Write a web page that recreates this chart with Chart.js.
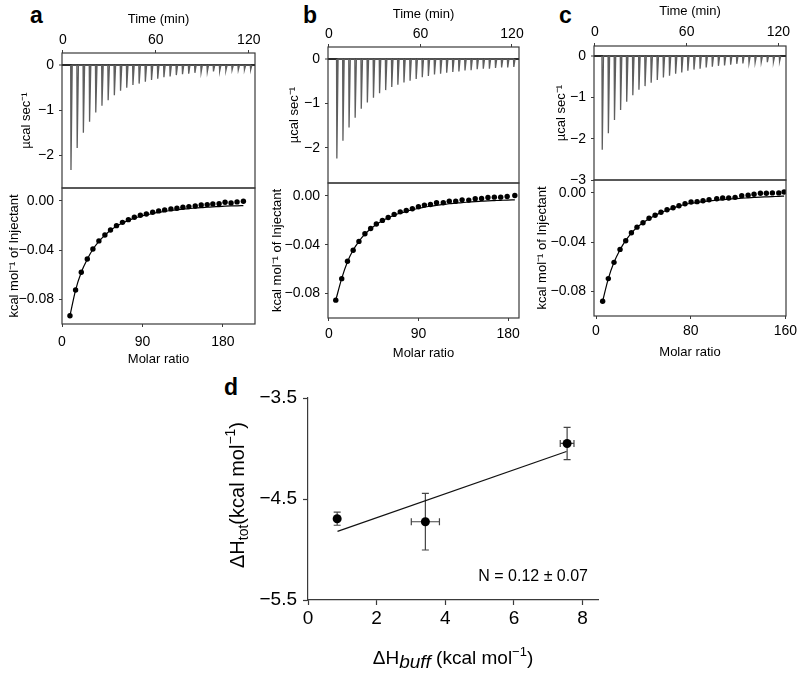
<!DOCTYPE html>
<html><head><meta charset="utf-8">
<script src="https://cdn.jsdelivr.net/npm/chart.js@4.4.1/dist/chart.umd.min.js"></script>
<style>
html,body{margin:0;padding:0;background:#fff}
body{width:800px;height:675px;position:relative;overflow:hidden;font-family:"Liberation Sans",Arial,sans-serif}
canvas{position:absolute}
.lbl{position:absolute;font-weight:bold;font-size:23px;line-height:23px;color:#000;font-family:"Liberation Sans",Arial,sans-serif}
</style></head><body>
<div class="lbl" style="left:30px;top:4px">a</div>
<div class="lbl" style="left:303px;top:4px">b</div>
<div class="lbl" style="left:559px;top:4px">c</div>
<div class="lbl" style="left:224px;top:376px">d</div>
<canvas id="aTop"></canvas><canvas id="aBot"></canvas>
<canvas id="bTop"></canvas><canvas id="bBot"></canvas>
<canvas id="cTop"></canvas><canvas id="cBot"></canvas>
<canvas id="dChart"></canvas>
<script>
// ---------------- DATA ----------------
const timeTicks = [0, 60, 120];
const timeTickLabels = ['0', '60', '120'];
const rawTicks = [0, -1, -2];
const rawTickLabels = ['0', '\u22121', '\u22122'];
const rawTicksC = [0, -1, -2, -3];
const rawTickLabelsC = ['0', '\u22121', '\u22122', '\u22123'];
const heatTicks = [0, -0.04, -0.08];
const heatTickLabels = ['0.00', '\u22120.04', '\u22120.08'];
const molarTicksAB = [0, 90, 180];
const molarTickLabelsAB = ['0', '90', '180'];
const molarTicksC = [0, 80, 160];
const molarTickLabelsC = ['0', '80', '160'];

// injection times (min) and peak heights (µcal/s)
const injTimesA = [5,9,13,17,21,25,29,33,37,41,45,49,53,57,61,65,69,73,77,81,85,89,93,97,101,105,109,113,117,121];
const peaksA = [-2.33,-1.84,-1.50,-1.26,-1.05,-0.90,-0.78,-0.67,-0.57,-0.50,-0.44,-0.41,-0.37,-0.33,-0.30,-0.27,-0.25,-0.22,-0.20,-0.19,-0.17,-0.16,-0.15,-0.14,-0.13,-0.12,-0.11,-0.11,-0.10,-0.10];
const injTimesB = [5,9,13,17,21,25,29,33,37,41,45,49,53,57,61,65,69,73,77,81,85,89,93,97,101,105,109,113,117,121];
const peaksB = [-2.24,-1.84,-1.54,-1.32,-1.12,-0.98,-0.87,-0.77,-0.70,-0.63,-0.58,-0.53,-0.49,-0.45,-0.41,-0.38,-0.35,-0.33,-0.31,-0.29,-0.28,-0.26,-0.25,-0.23,-0.22,-0.22,-0.20,-0.19,-0.19,-0.18];
const injTimesC = [4.6,8.6,12.6,16.6,20.6,24.6,28.6,32.6,36.6,40.6,44.6,48.6,52.6,56.6,60.6,64.6,68.6,72.6,76.6,80.6,84.6,88.6,92.6,96.6,100.6,104.6,108.6,112.6,116.6,120.6];
const peaksC = [-2.27,-1.87,-1.55,-1.31,-1.11,-0.95,-0.82,-0.73,-0.65,-0.58,-0.52,-0.48,-0.43,-0.40,-0.36,-0.33,-0.31,-0.28,-0.26,-0.24,-0.23,-0.21,-0.19,-0.18,-0.17,-0.16,-0.15,-0.15,-0.14,-0.13];

// integrated heats (kcal/mol of injectant) vs molar ratio, and fitted curves
const molarA = [8.9,15.2,21.6,28.3,34.6,41.3,48.0,54.3,61.0,67.7,74.3,81.0,87.7,94.4,101.5,108.2,114.9,121.9,128.6,135.3,142.0,149.1,155.8,162.5,168.8,175.8,182.5,189.2,195.9,203.0];
const heatA = [-0.0933,-0.0724,-0.0580,-0.0472,-0.0391,-0.0325,-0.0277,-0.0236,-0.0201,-0.0174,-0.0152,-0.0133,-0.0117,-0.0106,-0.0092,-0.0081,-0.0073,-0.0065,-0.0060,-0.0052,-0.0046,-0.0041,-0.0033,-0.0030,-0.0024,-0.0022,-0.0011,-0.0016,-0.0008,-0.0003];
const fitA = [-0.0933,-0.0724,-0.0580,-0.0474,-0.0393,-0.0328,-0.0279,-0.0239,-0.0206,-0.0180,-0.0158,-0.0140,-0.0125,-0.0113,-0.0102,-0.0093,-0.0085,-0.0078,-0.0072,-0.0067,-0.0062,-0.0058,-0.0054,-0.0051,-0.0048,-0.0046,-0.0043,-0.0041,-0.0040,-0.0038];

const molarB = [6.8,12.8,18.6,24.3,30.1,36.1,41.9,47.6,53.7,59.5,65.5,71.6,77.7,83.8,89.9,95.9,102.0,108.1,114.9,120.9,127.4,133.8,140.5,147.0,153.4,159.8,166.2,172.6,179.1,186.8];
const heatB = [-0.0854,-0.0678,-0.0536,-0.0446,-0.0373,-0.0310,-0.0267,-0.0231,-0.0201,-0.0177,-0.0152,-0.0131,-0.0120,-0.0106,-0.0090,-0.0076,-0.0071,-0.0057,-0.0057,-0.0044,-0.0044,-0.0033,-0.0035,-0.0024,-0.0022,-0.0014,-0.0011,-0.0011,-0.0005,0.0003];
const fitB = [-0.0854,-0.0676,-0.0540,-0.0444,-0.0372,-0.0314,-0.0270,-0.0234,-0.0204,-0.0180,-0.0159,-0.0142,-0.0127,-0.0114,-0.0103,-0.0093,-0.0085,-0.0078,-0.0071,-0.0065,-0.0060,-0.0055,-0.0051,-0.0047,-0.0044,-0.0041,-0.0039,-0.0037,-0.0035,-0.0033];

const molarC = [5.6,10.4,15.2,20.3,25.1,29.9,34.6,39.7,44.8,49.9,54.9,60.0,65.1,70.1,75.2,80.3,85.4,90.4,95.5,102.0,107.0,112.1,117.5,123.1,128.5,133.5,138.9,143.9,149.0,154.4,158.9];
const heatC = [-0.0880,-0.0696,-0.0564,-0.0459,-0.0388,-0.0324,-0.0278,-0.0242,-0.0206,-0.0181,-0.0157,-0.0137,-0.0121,-0.0104,-0.0088,-0.0074,-0.0071,-0.0063,-0.0055,-0.0047,-0.0041,-0.0041,-0.0036,-0.0022,-0.0019,-0.0011,-0.0003,-0.0003,0.0000,0.0000,0.0008];
const fitC = [-0.0880,-0.0696,-0.0564,-0.0462,-0.0386,-0.0326,-0.0280,-0.0242,-0.0210,-0.0183,-0.0160,-0.0141,-0.0123,-0.0107,-0.0094,-0.0084,-0.0077,-0.0071,-0.0065,-0.0059,-0.0055,-0.0051,-0.0047,-0.0043,-0.0040,-0.0037,-0.0034,-0.0032,-0.0030,-0.0028,-0.0026];

// panel d: ΔH_tot vs ΔH_buff
const dHbuff = [0.85, 3.42, 7.55];
const dHtot = [-4.695, -4.725, -3.95];
const dHbuffErr = [0, 0.41, 0.20];
const dHtotErr = [0.065, 0.28, 0.16];
const dFitX = [0.86, 7.53];
const dFitY = [-4.82, -4.03];
const dXTicks = [0, 2, 4, 6, 8];
const dXTickLabels = ['0', '2', '4', '6', '8'];
const dYTicks = [-3.5, -4.5, -5.5];
const dYTickLabels = ['\u22123.5', '\u22124.5', '\u22125.5'];
const dNote = 'N = 0.12 \u00b1 0.07';

// ---------------- DRAWING ----------------
const FAM = '"Liberation Sans", Arial, Helvetica, sans-serif';
const F13 = {family: FAM, size: 13};
const F14 = {family: FAM, size: 14};
const AX = '#3a3a3a';

function lab(values, labels) {
  return (v) => { const i = values.findIndex(x => Math.abs(x - v) < 1e-9); return i >= 0 ? labels[i] : ''; };
}
function setTicks(values) { return (s) => { s.ticks = values.map(v => ({value: v})); }; }

const framePlugin = {
  id: 'frame',
  afterDraw(chart) {
    const {ctx, chartArea: a} = chart;
    ctx.save();
    ctx.strokeStyle = AX; ctx.lineWidth = 1.2;
    ctx.strokeRect(a.left, a.top, a.right - a.left, a.bottom - a.top);
    ctx.restore();
  }
};

function mk(id, box, cfg) {
  const c = document.getElementById(id);
  c.width = box.w; c.height = box.h;
  c.style.left = box.l + 'px'; c.style.top = box.t + 'px';
  cfg.options.responsive = false;
  cfg.options.animation = false;
  cfg.options.devicePixelRatio = 1;
  cfg.options.plugins = Object.assign({legend: {display: false}, tooltip: {enabled: false}}, cfg.options.plugins || {});
  return new Chart(c, cfg);
}

function topChart(id, box, area, times, peaks, xr, yr, yv, yl, p) {
  const pts = [];
  times.forEach((t, i) => { pts.push({x: t, y: 0}, {x: t + 0.2, y: peaks[i]}, {x: t + 1.0, y: 0}); });
  return mk(id, box, {
    type: 'scatter',
    data: {datasets: [{data: pts, showLine: true, borderColor: '#5e5e5e', borderWidth: 1.3, pointRadius: 0, tension: 0}]},
    options: {
      layout: {padding: {left: 0, top: 0, right: box.l + box.w - area.x1, bottom: box.t + box.h - area.y1}},
      scales: {
        x: {type: 'linear', position: 'top', min: xr[0], max: xr[1],
          afterBuildTicks: setTicks(timeTicks),
          ticks: {font: F14, color: '#000', padding: p.xp, maxRotation: 0, autoSkip: false, callback: lab(timeTicks, timeTickLabels)},
          grid: {drawOnChartArea: false, tickLength: 3, color: AX, tickColor: AX, tickWidth: 1},
          border: {display: false},
          title: {display: true, text: 'Time (min)', font: F13, color: '#000', padding: {top: p.xt, bottom: 0}},
          afterFit: (s) => { s.height = area.y0 - box.t; s.paddingLeft = 0; s.paddingRight = 0; }
        },
        y: {type: 'linear', position: 'left', min: yr[0], max: yr[1],
          afterBuildTicks: setTicks(yv),
          ticks: {font: F14, color: '#000', padding: 5, autoSkip: false, callback: lab(yv, yl)},
          grid: {drawOnChartArea: true, tickLength: 3, tickColor: AX, tickWidth: 1,
            color: (c) => (c.tick && c.tick.value === 0) ? '#2a2a2a' : 'rgba(0,0,0,0)',
            lineWidth: (c) => (c.tick && c.tick.value === 0) ? 2 : 1},
          border: {display: false},
          title: {display: true, text: '\u00b5cal sec\u207b\u00b9', font: F13, color: '#000', padding: {top: p.yt, bottom: 0}},
          afterFit: (s) => { s.width = area.x0 - box.l; s.paddingTop = 0; s.paddingBottom = 0; }
        }
      }
    },
    plugins: [framePlugin]
  });
}

function botChart(id, box, area, mx, hy, fy, xr, xv, xl, p) {
  return mk(id, box, {
    type: 'scatter',
    data: {datasets: [
      {data: mx.map((x, i) => ({x: x, y: hy[i]})), pointRadius: 2.7, pointBackgroundColor: '#000', pointBorderColor: '#000', pointBorderWidth: 0, showLine: false},
      {data: mx.map((x, i) => ({x: x, y: fy[i]})), showLine: true, pointRadius: 0, borderColor: '#000', borderWidth: 1.2, tension: 0.3, cubicInterpolationMode: 'monotone'}
    ]},
    options: {
      layout: {padding: {left: 0, top: area.y0 - box.t, right: box.l + box.w - area.x1, bottom: 0}},
      scales: {
        x: {type: 'linear', position: 'bottom', min: xr[0], max: xr[1],
          afterBuildTicks: setTicks(xv),
          ticks: {font: F14, color: '#000', padding: p.xp, maxRotation: 0, autoSkip: false, callback: lab(xv, xl)},
          grid: {drawOnChartArea: false, tickLength: 3, color: AX, tickColor: AX, tickWidth: 1},
          border: {display: false},
          title: {display: true, text: 'Molar ratio', font: F13, color: '#000', padding: {top: 0, bottom: p.xt}},
          afterFit: (s) => { s.height = box.t + box.h - area.y1; s.paddingLeft = 0; s.paddingRight = 0; }
        },
        y: {type: 'linear', position: 'left', min: -0.1, max: 0.0105,
          afterBuildTicks: setTicks(heatTicks),
          ticks: {font: F14, color: '#000', padding: 5, autoSkip: false, callback: lab(heatTicks, heatTickLabels)},
          grid: {drawOnChartArea: false, tickLength: 3, color: AX, tickColor: AX, tickWidth: 1},
          border: {display: false},
          title: {display: true, text: 'kcal mol\u207b\u00b9 of Injectant', font: F13, color: '#000', padding: {top: p.yt, bottom: 0}},
          afterFit: (s) => { s.width = area.x0 - box.l; s.paddingTop = 0; s.paddingBottom = 0; }
        }
      }
    },
    plugins: [framePlugin]
  });
}

// Panel a
topChart('aTop', {l: 0, t: 0, w: 275, h: 205}, {x0: 62, y0: 53, x1: 255, y1: 188},
  injTimesA, peaksA, [-0.6, 124], [-2.73, 0.27], rawTicks, rawTickLabels, {xp: 1, xt: 12, yt: 19});
botChart('aBot', {l: 0, t: 173, w: 275, h: 200}, {x0: 62, y0: 188, x1: 255, y1: 324},
  molarA, heatA, fitA, [0, 216], molarTicksAB, molarTickLabelsAB, {xp: 7, xt: 6, yt: 7});
// Panel b
topChart('bTop', {l: 270, t: 0, w: 270, h: 198}, {x0: 328, y0: 47, x1: 519, y1: 183},
  injTimesB, peaksB, [-0.6, 124.6], [-2.79, 0.27], rawTicks, rawTickLabels, {xp: 1, xt: 7, yt: 17});
botChart('bBot', {l: 270, t: 168, w: 270, h: 200}, {x0: 328, y0: 183, x1: 519, y1: 318},
  molarB, heatB, fitB, [-1, 191], molarTicksAB, molarTickLabelsAB, {xp: 5, xt: 7, yt: 0});
// Panel c
topChart('cTop', {l: 535, t: 0, w: 265, h: 195}, {x0: 594, y0: 46, x1: 786, y1: 180},
  injTimesC, peaksC, [-0.6, 125], [-3, 0.24], rawTicksC, rawTickLabelsC, {xp: 2, xt: 4, yt: 19});
botChart('cBot', {l: 535, t: 165, w: 265, h: 200}, {x0: 594, y0: 180, x1: 786, y1: 316},
  molarC, heatC, fitC, [-1.7, 160.5], molarTicksC, molarTickLabelsC, {xp: 4, xt: 5, yt: 0});

// Panel d
function richText(ctx, segs) {
  let w = 0;
  segs.forEach(s => { ctx.font = s.f; s.w = ctx.measureText(s.t).width; w += s.w; });
  let x = -w / 2;
  segs.forEach(s => { ctx.font = s.f; ctx.fillText(s.t, x, s.dy || 0); x += s.w; });
}
const dTitles = {
  id: 'dTitles',
  afterDraw(chart) {
    const {ctx, chartArea: a} = chart;
    ctx.save();
    ctx.fillStyle = '#000'; ctx.textBaseline = 'middle'; ctx.textAlign = 'left';
    // y title
    ctx.save();
    ctx.translate(a.left - 70, (a.top + a.bottom) / 2 - 4);
    ctx.rotate(-Math.PI / 2);
    richText(ctx, [
      {t: '\u0394H', f: '20px ' + FAM},
      {t: 'tot', f: '14px ' + FAM, dy: 6},
      {t: '(kcal mol', f: '20px ' + FAM},
      {t: '\u22121', f: '14px ' + FAM, dy: -7},
      {t: ')', f: '20px ' + FAM}
    ]);
    ctx.restore();
    // x title
    ctx.save();
    ctx.translate((a.left + a.right) / 2, a.bottom + 59);
    richText(ctx, [
      {t: '\u0394H', f: '19px ' + FAM},
      {t: 'buff', f: 'italic 19px ' + FAM, dy: 4},
      {t: ' (kcal mol', f: '19px ' + FAM},
      {t: '\u22121', f: '13px ' + FAM, dy: -7},
      {t: ')', f: '19px ' + FAM}
    ]);
    ctx.restore();
    // note
    ctx.font = '16px ' + FAM; ctx.textAlign = 'right';
    ctx.fillText(dNote, a.right - 10, a.bottom - 23);
    ctx.restore();
  }
};
const errBars = {
  id: 'errBars',
  beforeDatasetsDraw(chart) {
    const {ctx} = chart; const sx = chart.scales.x, sy = chart.scales.y;
    ctx.save(); ctx.strokeStyle = '#444'; ctx.lineWidth = 1.2;
    dHbuff.forEach((x, i) => {
      const px = sx.getPixelForValue(x), py = sy.getPixelForValue(dHtot[i]);
      const cap = 3.5;
      if (dHtotErr[i] > 0) {
        const y1 = sy.getPixelForValue(dHtot[i] + dHtotErr[i]), y2 = sy.getPixelForValue(dHtot[i] - dHtotErr[i]);
        ctx.beginPath(); ctx.moveTo(px, y1); ctx.lineTo(px, y2);
        ctx.moveTo(px - cap, y1); ctx.lineTo(px + cap, y1);
        ctx.moveTo(px - cap, y2); ctx.lineTo(px + cap, y2); ctx.stroke();
      }
      if (dHbuffErr[i] > 0) {
        const x1 = sx.getPixelForValue(x - dHbuffErr[i]), x2 = sx.getPixelForValue(x + dHbuffErr[i]);
        ctx.beginPath(); ctx.moveTo(x1, py); ctx.lineTo(x2, py);
        ctx.moveTo(x1, py - cap); ctx.lineTo(x1, py + cap);
        ctx.moveTo(x2, py - cap); ctx.lineTo(x2, py + cap); ctx.stroke();
      }
    });
    ctx.restore();
  }
};
const F19 = {family: FAM, size: 19};
(function () {
  const box = {l: 200, t: 370, w: 420, h: 305};
  const area = {x0: 308, y0: 398, x1: 598, y1: 600};
  mk('dChart', box, {
    type: 'scatter',
    data: {datasets: [
      {data: dHbuff.map((x, i) => ({x: x, y: dHtot[i]})), pointRadius: 4.5, pointBackgroundColor: '#000', pointBorderColor: '#000', pointBorderWidth: 0, showLine: false},
      {data: dFitX.map((x, i) => ({x: x, y: dFitY[i]})), showLine: true, pointRadius: 0, borderColor: '#111', borderWidth: 1.2}
    ]},
    options: {
      layout: {padding: {left: 0, top: area.y0 - box.t, right: box.l + box.w - area.x1, bottom: 0}},
      scales: {
        x: {type: 'linear', position: 'bottom', min: 0, max: 8.45,
          afterBuildTicks: setTicks(dXTicks),
          ticks: {font: F19, color: '#000', padding: 2, maxRotation: 0, autoSkip: false, callback: lab(dXTicks, dXTickLabels)},
          grid: {drawOnChartArea: false, tickLength: 5, color: AX, tickColor: AX, tickWidth: 1.2},
          border: {display: true, color: AX, width: 1.2},
          afterFit: (s) => { s.height = box.t + box.h - area.y1; s.paddingLeft = 0; s.paddingRight = 0; }
        },
        y: {type: 'linear', position: 'left', min: -5.5, max: -3.5,
          afterBuildTicks: setTicks(dYTicks),
          ticks: {font: F19, color: '#000', padding: 6, autoSkip: false, callback: lab(dYTicks, dYTickLabels)},
          grid: {drawOnChartArea: false, tickLength: 5, color: AX, tickColor: AX, tickWidth: 1.2},
          border: {display: true, color: AX, width: 1.2},
          afterFit: (s) => { s.width = area.x0 - box.l; s.paddingTop = 0; s.paddingBottom = 0; }
        }
      }
    },
    plugins: [errBars, dTitles]
  });
})();
</script>
</body></html>
